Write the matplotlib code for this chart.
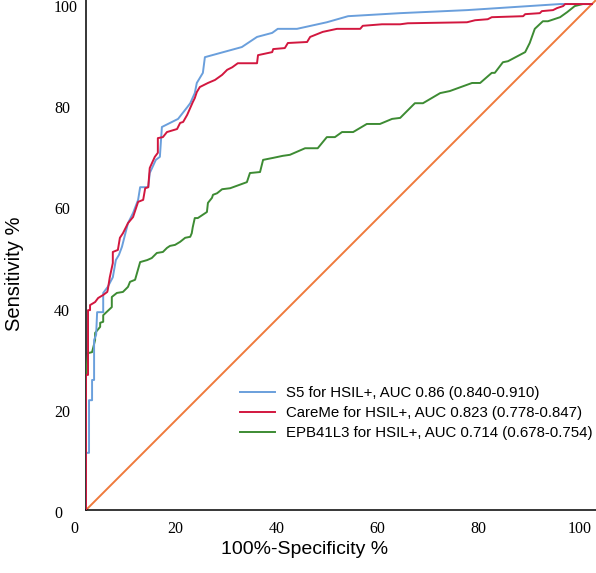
import matplotlib
matplotlib.use("Agg")
import matplotlib.pyplot as plt
import matplotlib.transforms as mtransforms

# ROC points (1 - specificity %, sensitivity %)
s5_x = [0, 0, 0.6, 0.6, 1.2, 1.2, 1.6, 1.6, 2.0, 2.2, 3.4, 3.4, 4.3, 5.3, 5.9, 6.5, 7.1,
        8.3, 9.3, 10.3, 10.7, 12.3, 12.6, 13.8, 14.6, 15.0, 18.2, 20.0, 20.6, 21.5, 21.9,
        22.5, 23.1, 23.5, 30.8, 33.8, 36.8, 37.9, 41.7, 47.6, 51.8, 62.1, 75.3, 93.7, 100]
s5_y = [0, 11.3, 11.3, 21.7, 21.7, 25.7, 25.7, 33.6, 34.6, 39.1, 39.1, 42.9, 44.1, 46.0,
        49.4, 50.4, 52.0, 56.7, 58.7, 61.3, 63.8, 63.8, 66.6, 69.2, 69.8, 75.7, 77.3, 79.6,
        80.4, 82.4, 84.4, 85.4, 86.4, 89.5, 91.5, 93.5, 94.3, 95.1, 95.1, 96.4, 97.6, 98.2,
        98.8, 100, 100]

careme_x = [0, 0, 0.4, 0.4, 0.8, 0.8, 1.8, 2.4, 3.4, 4.2, 4.3, 4.7, 5.3, 5.3, 6.3, 6.7, 7.3,
            8.3, 9.3, 10.3, 11.3, 11.7, 12.3, 12.6, 13.6, 14.2, 14.2, 15.2, 16.0, 18.0, 18.6,
            19.2, 20.0, 21.1, 21.5, 21.9, 22.5, 24.1, 25.5, 26.9, 27.9, 28.9, 30.0, 33.8,
            34.0, 36.8, 37.0, 39.3, 39.9, 43.7, 44.3, 46.8, 49.6, 54.2, 54.7, 58.5, 62.1,
            63.6, 75.3, 76.9, 79.4, 80.2, 86.4, 86.8, 89.7, 90.1, 92.3, 93.1, 94.3, 94.7, 100]
careme_y = [0, 26.7, 26.7, 39.5, 39.5, 40.5, 41.1, 41.9, 42.5, 43.1, 43.5, 46.0, 48.8, 51.0,
            51.4, 53.8, 54.7, 56.7, 57.9, 60.9, 61.3, 63.6, 63.8, 67.6, 69.8, 70.6, 73.5,
            73.7, 74.7, 75.3, 76.5, 76.7, 78.1, 80.6, 81.4, 82.6, 83.6, 84.4, 85.0, 86.0,
            87.0, 87.5, 88.3, 88.3, 89.9, 90.5, 91.1, 91.3, 92.3, 92.5, 93.5, 94.5, 95.1,
            95.1, 95.7, 96.0, 96.0, 96.2, 96.4, 96.8, 97.0, 97.4, 97.6, 98.0, 98.2, 98.6,
            98.8, 99.2, 99.6, 100, 100]

epb_x = [0, 0, 0.4, 1.2, 1.8, 1.8, 2.8, 2.8, 3.4, 3.4, 5.1, 5.1, 6.1, 7.3, 8.3, 8.7, 9.7,
         10.7, 12.1, 13.0, 14.0, 15.2, 16.0, 16.6, 17.6, 18.6, 19.6, 20.6, 20.9, 21.1, 21.5,
         22.1, 23.9, 24.1, 24.9, 25.1, 25.9, 26.9, 28.5, 31.8, 32.4, 34.4, 35.0, 37.0, 38.9,
         40.3, 43.3, 45.8, 47.6, 49.2, 50.6, 52.8, 55.5, 58.1, 60.5, 62.1, 65.0, 66.6, 70.0,
         71.9, 76.3, 77.9, 80.2, 80.8, 82.4, 83.4, 86.8, 87.7, 88.7, 90.3, 91.3, 93.7, 95.1,
         96.6, 98.2, 100]
epb_y = [0, 26.7, 31.0, 31.2, 33.6, 35.0, 36.2, 37.0, 37.2, 38.5, 40.1, 42.1, 42.9, 43.1,
         44.1, 45.1, 45.5, 49.0, 49.4, 49.8, 50.8, 51.0, 51.8, 52.2, 52.4, 53.0, 53.8, 54.0,
         54.7, 55.9, 57.7, 57.7, 58.9, 60.7, 61.7, 62.3, 62.6, 63.4, 63.6, 64.8, 66.6, 66.8,
         69.2, 69.6, 70.0, 70.2, 71.5, 71.5, 73.7, 73.7, 74.7, 74.7, 76.3, 76.3, 77.3, 77.5,
         80.4, 80.4, 82.4, 82.8, 84.4, 84.4, 86.4, 86.4, 88.5, 88.7, 90.5, 92.3, 95.1, 96.6,
         96.6, 97.4, 98.4, 99.6, 100, 100]

ref_line = [0, 101]

labels = ["S5 for HSIL+, AUC 0.86 (0.840-0.910)",
          "CareMe for HSIL+, AUC 0.823 (0.778-0.847)",
          "EPB41L3 for HSIL+, AUC 0.714 (0.678-0.754)"]
ticks = [0, 20, 40, 60, 80, 100]

fig = plt.figure(figsize=(5.96, 5.73), dpi=100)
ax = fig.add_axes([86 / 596, 63 / 573, 510 / 596, 510 / 573])

ax.plot(s5_x, s5_y, color="#6a9fdc", lw=1.4, label=labels[0], zorder=4)
ax.plot(careme_x, careme_y, color="#d2173f", lw=1.4, label=labels[1], zorder=5)
ax.plot(epb_x, epb_y, color="#3d8b33", lw=1.4, label=labels[2], zorder=3)
ax.plot(ref_line, ref_line, color="#ef7a3c", lw=1.4, zorder=2)

ax.set_xlim(0, 100.8)
ax.set_ylim(0, 100.8)
ax.spines["top"].set_visible(False)
ax.spines["right"].set_visible(False)
for s in ["left", "bottom"]:
    ax.spines[s].set_linewidth(1.1)

ax.set_xticks(ticks)
ax.set_yticks(ticks)
ax.tick_params(length=0, labelsize=11.5)
ax.tick_params(axis="x", pad=8)
ax.tick_params(axis="y", pad=23)
for lab in ax.get_xticklabels() + ax.get_yticklabels():
    lab.set_fontfamily("Liberation Serif")
# SPSS style: labels sit a little off the grid positions
for lab in ax.get_yticklabels():
    lab.set_horizontalalignment("left")
    lab.set_transform(lab.get_transform() + mtransforms.ScaledTranslation(0, -2 / 100, fig.dpi_scale_trans))
for lab in ax.get_xticklabels():
    lab.set_transform(lab.get_transform() + mtransforms.ScaledTranslation(-12 / 100, 0, fig.dpi_scale_trans))

fig.text(15 / 596, 1 - 274 / 573, "Sensitivity %", rotation=90, ha="center", va="center",
         fontsize=14.5, family="Liberation Sans")
fig.text(305 / 596, 1 - 550 / 573, "100%-Specificity %", ha="center", va="center",
         fontsize=14, family="Liberation Sans")

ax.legend(loc="upper left", bbox_to_anchor=(240 / 596, 1 - 386 / 573),
          bbox_transform=fig.transFigure, frameon=False, borderpad=0, borderaxespad=0,
          handlelength=2.3, handletextpad=0.75, labelspacing=0.4,
          prop={"family": "Liberation Sans", "size": 10.8})

fig.savefig("out.png", dpi=100)
